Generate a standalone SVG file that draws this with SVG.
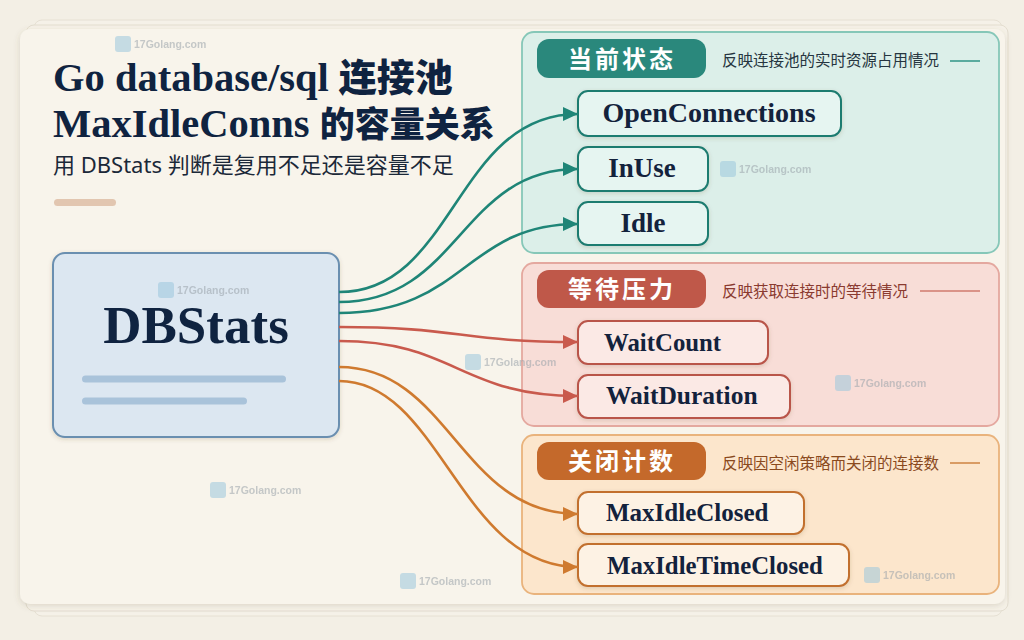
<svg xmlns="http://www.w3.org/2000/svg" width="1024" height="640" viewBox="0 0 1024 640">
<defs>
<filter id="sh" x="-5%" y="-5%" width="110%" height="115%"><feDropShadow dx="0" dy="2" stdDeviation="3" flood-color="#6b5a40" flood-opacity="0.18"/></filter>
<filter id="sh2" x="-5%" y="-10%" width="110%" height="130%"><feDropShadow dx="0" dy="1.5" stdDeviation="2" flood-color="#5a4a30" flood-opacity="0.18"/></filter>
<marker id="aT" markerUnits="userSpaceOnUse" markerWidth="16" markerHeight="14" refX="15" refY="7" orient="auto"><path d="M0,0 L15,7 L0,14 Z" fill="#1f8577"/></marker>
<marker id="aR" markerUnits="userSpaceOnUse" markerWidth="16" markerHeight="14" refX="15" refY="7" orient="auto"><path d="M0,0 L15,7 L0,14 Z" fill="#c95a4d"/></marker>
<marker id="aO" markerUnits="userSpaceOnUse" markerWidth="16" markerHeight="14" refX="15" refY="7" orient="auto"><path d="M0,0 L15,7 L0,14 Z" fill="#cf7a2f"/></marker>
<g id="wm">
<rect x="0" y="-8" width="16" height="16" rx="3" fill="#9cc7dc"/>
<text x="19" y="4" font-family="Liberation Sans, sans-serif" font-size="10.5" font-weight="bold" fill="#9aa3aa">17Golang.com</text>
</g>
</defs>
<style>
.ttl{font-family:"Liberation Serif","Noto Sans CJK SC",serif;font-weight:bold;fill:#0f2340}
.cjk{font-family:"Noto Sans CJK SC",sans-serif;font-weight:900}
.sub{font-family:"Noto Sans","Noto Sans CJK SC",sans-serif;font-size:22px;fill:#1b2838}
.node{font-family:"Liberation Serif","Noto Sans CJK SC",serif;font-weight:bold;fill:#13223c}
.hdr{font-family:"Noto Sans CJK SC",sans-serif;font-weight:bold;font-size:24px;fill:#ffffff;letter-spacing:3px}
.desc{font-family:"Noto Sans CJK SC",sans-serif;font-size:15.5px}
.wm{opacity:0.55}
.c{fill:none;stroke-width:2.6}
</style>
<rect width="1024" height="640" fill="#f3efe5"/>
<!-- paper stack -->
<rect x="34" y="20" width="968" height="596" rx="8" fill="#f5f1e8" stroke="#e6e0d3" stroke-width="1"/>
<rect x="26" y="25" width="982" height="586" rx="8" fill="#f6f2e9" stroke="#e4ded0" stroke-width="1"/>
<rect x="20" y="29" width="985" height="575" rx="10" fill="#f8f4eb" filter="url(#sh)"/>

<!-- title -->
<g id="title">
<text class="ttl" x="53" y="91" font-size="40.5">Go database/sql <tspan class="cjk" font-size="38">连接池</tspan></text>
<text class="ttl" x="53" y="137" font-size="40.5">MaxIdleConns <tspan class="cjk" font-size="35">的容量关系</tspan></text>
<text class="sub" x="53" y="173">用 DBStats 判断是复用不足还是容量不足</text>
<rect x="54" y="199" width="62" height="7" rx="3.5" fill="#e2c6b0"/>
</g>

<!-- DBStats -->
<g id="dbstats">
<rect x="53" y="253" width="286" height="184" rx="12" fill="#dce7f1" stroke="#6a8fb0" stroke-width="2" filter="url(#sh2)"/>
<text class="ttl" x="196" y="343" font-size="53" text-anchor="middle">DBStats</text>
<rect x="82" y="375.5" width="204" height="7" rx="3.5" fill="#a9c3da"/>
<rect x="82" y="397.5" width="165" height="7" rx="3.5" fill="#a9c3da"/>
</g>

<!-- panels -->
<g id="panel-current">
<rect x="522" y="32" width="477" height="221" rx="12" fill="#dcefe9" stroke="#86c7b8" stroke-width="1.8"/>
<rect x="537" y="39" width="169" height="39" rx="12" fill="#2a887c"/>
<text class="hdr" x="622" y="68" text-anchor="middle">当前状态</text>
<text class="desc" x="722" y="66" fill="#263540">反映连接池的实时资源占用情况</text>
<line x1="950" y1="61" x2="980" y2="61" stroke="#3a9a8c" stroke-width="1.6"/>
</g>
<g id="panel-wait">
<rect x="522" y="263" width="477" height="163" rx="12" fill="#f8ddd7" stroke="#e4a89f" stroke-width="1.8"/>
<rect x="537" y="270" width="169" height="38" rx="12" fill="#bf5849"/>
<text class="hdr" x="622" y="298" text-anchor="middle">等待压力</text>
<text class="desc" x="722" y="297" fill="#8a3a30">反映获取连接时的等待情况</text>
<line x1="920" y1="291" x2="980" y2="291" stroke="#d07a6e" stroke-width="1.6"/>
</g>
<g id="panel-closed">
<rect x="522" y="435" width="477" height="159" rx="12" fill="#fce6cc" stroke="#e9b37c" stroke-width="1.8"/>
<rect x="537" y="442" width="169" height="38" rx="12" fill="#c4692b"/>
<text class="hdr" x="622" y="470" text-anchor="middle">关闭计数</text>
<text class="desc" x="722" y="469" fill="#8a4a1e">反映因空闲策略而关闭的连接数</text>
<line x1="950" y1="463" x2="980" y2="463" stroke="#d08a4a" stroke-width="1.6"/>
</g>

<!-- nodes -->
<g id="n-open"><rect x="578" y="91" width="263" height="45" rx="10" fill="#e6f5f1" stroke="#1f7b70" stroke-width="2" filter="url(#sh2)"/><text class="node" x="709" y="122" text-anchor="middle" font-size="28">OpenConnections</text></g>
<g id="n-inuse"><rect x="578" y="147" width="130" height="44" rx="10" fill="#e6f5f1" stroke="#1f7b70" stroke-width="2" filter="url(#sh2)"/><text class="node" x="642" y="177" text-anchor="middle" font-size="27">InUse</text></g>
<g id="n-idle"><rect x="578" y="202" width="130" height="43" rx="10" fill="#e6f5f1" stroke="#1f7b70" stroke-width="2" filter="url(#sh2)"/><text class="node" x="643" y="232" text-anchor="middle" font-size="27">Idle</text></g>
<g id="n-waitcount"><rect x="578" y="321" width="190" height="43" rx="10" fill="#fbe9e5" stroke="#b9544a" stroke-width="2" filter="url(#sh2)"/><text class="node" x="604" y="351" font-size="24.8">WaitCount</text></g>
<g id="n-waitdur"><rect x="578" y="375" width="212" height="43" rx="10" fill="#fbe9e5" stroke="#b9544a" stroke-width="2" filter="url(#sh2)"/><text class="node" x="606" y="404" font-size="25.5">WaitDuration</text></g>
<g id="n-maxidle"><rect x="578" y="492" width="226" height="42" rx="10" fill="#fdf2e4" stroke="#c2702f" stroke-width="2" filter="url(#sh2)"/><text class="node" x="606" y="521" font-size="25">MaxIdleClosed</text></g>
<g id="n-maxidletime"><rect x="578" y="544" width="271" height="42" rx="10" fill="#fdf2e4" stroke="#c2702f" stroke-width="2" filter="url(#sh2)"/><text class="node" x="607" y="574" font-size="24.8">MaxIdleTimeClosed</text></g>

<!-- connectors -->
<g id="connectors">
<path class="c" stroke="#1f8577" marker-end="url(#aT)" d="M339,292 C455,292 455,114 578,114"/>
<path class="c" stroke="#1f8577" marker-end="url(#aT)" d="M339,302 C460,302 460,169 578,169"/>
<path class="c" stroke="#1f8577" marker-end="url(#aT)" d="M339,313 C465,313 465,224 578,224"/>
<path class="c" stroke="#c95a4d" marker-end="url(#aR)" d="M339,327 C460,327 460,342 578,342"/>
<path class="c" stroke="#c95a4d" marker-end="url(#aR)" d="M339,341 C455,341 460,396 578,396"/>
<path class="c" stroke="#cf7a2f" marker-end="url(#aO)" d="M339,367 C450,367 460,514 578,514"/>
<path class="c" stroke="#cf7a2f" marker-end="url(#aO)" d="M339,381 C440,381 460,567 578,567"/>
</g>

<!-- watermarks -->
<g class="wm">
<use href="#wm" x="115" y="44"/>
<use href="#wm" x="720" y="169"/>
<use href="#wm" x="158" y="290"/>
<use href="#wm" x="465" y="362"/>
<use href="#wm" x="835" y="383"/>
<use href="#wm" x="210" y="490"/>
<use href="#wm" x="400" y="581"/>
<use href="#wm" x="864" y="575"/>
</g>
</svg>
